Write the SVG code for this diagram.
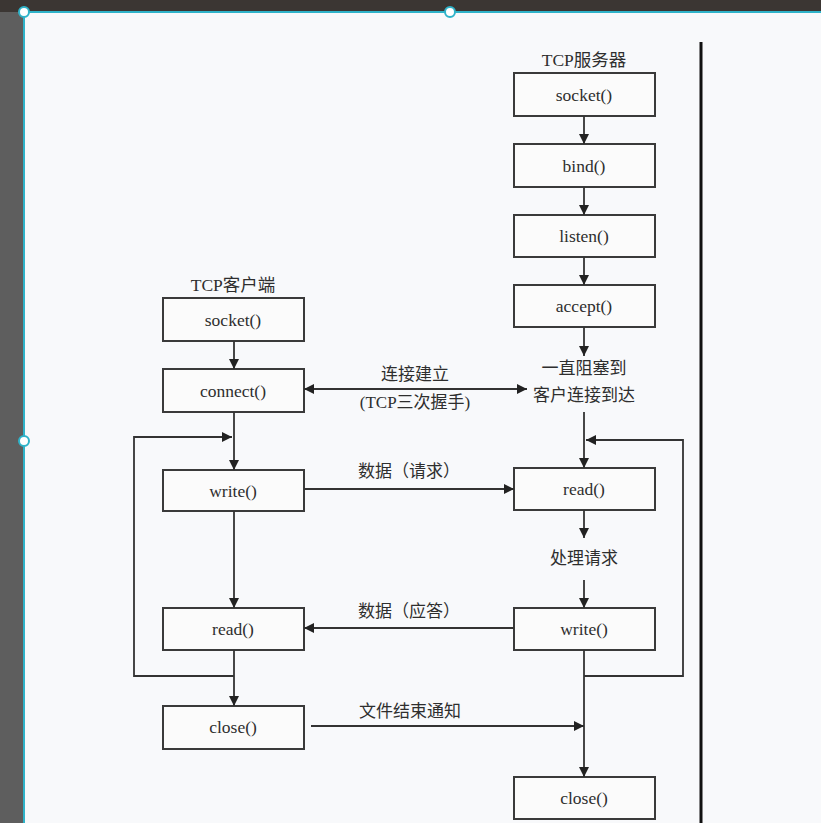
<svg xmlns="http://www.w3.org/2000/svg" width="821" height="823" viewBox="0 0 821 823">
<style>
.box{fill:#fbfbfb;stroke:#3a3a3a;stroke-width:2}
.t{font-family:"Liberation Serif","Noto Sans CJK SC",serif;font-size:17.5px;fill:#2e2e2e;text-anchor:middle}
.c{font-family:"Liberation Serif","Noto Sans CJK SC",serif;font-size:17px;fill:#2e2e2e;text-anchor:middle}
.ln{fill:none;stroke:#333;stroke-width:1.8}
</style>
<defs>
<marker id="ah" viewBox="0 0 10 10" refX="10" refY="5" markerWidth="10" markerHeight="10" markerUnits="userSpaceOnUse" orient="auto-start-reverse">
<path d="M0,0 L10,5 L0,10 z" fill="#222"/>
</marker>
</defs>
<!-- screen background -->
<rect x="0" y="0" width="821" height="823" fill="#5e5e5e"/>
<rect x="0" y="0" width="821" height="12" fill="#3b3633"/>
<rect x="25" y="13" width="796" height="810" fill="#f8f9fb"/>
<line x1="24" y1="12" x2="24" y2="823" stroke="#2fb3c9" stroke-width="2"/>
<line x1="24" y1="12" x2="821" y2="12" stroke="#2fb3c9" stroke-width="2"/>
<g fill="#ffffff" stroke="#2fb3c9" stroke-width="2">
<circle cx="24" cy="12" r="5"/>
<circle cx="450" cy="12" r="5"/>
<circle cx="24" cy="441" r="5"/>
</g>
<line x1="701" y1="42" x2="701" y2="823" stroke="#111" stroke-width="3"/>

<!-- labels -->
<text class="t" x="584" y="66">TCP服务器</text>
<text class="t" x="233" y="291">TCP客户端</text>

<!-- server nodes -->
<g id="s_socket"><rect class="box" x="514" y="73" width="141" height="43"/><text class="t" x="584" y="101">socket()</text></g>
<g id="s_bind"><rect class="box" x="514" y="144" width="141" height="43"/><text class="t" x="584" y="172">bind()</text></g>
<g id="s_listen"><rect class="box" x="514" y="215" width="141" height="42"/><text class="t" x="584" y="242">listen()</text></g>
<g id="s_accept"><rect class="box" x="514" y="285" width="141" height="42"/><text class="t" x="584" y="312">accept()</text></g>
<g id="s_block"><text class="c" x="584" y="374">一直阻塞到</text><text class="c" x="584" y="401">客户连接到达</text></g>
<g id="s_read"><rect class="box" x="514" y="468" width="141" height="42"/><text class="t" x="584" y="495">read()</text></g>
<g id="s_proc"><text class="c" x="584" y="564">处理请求</text></g>
<g id="s_write"><rect class="box" x="514" y="608" width="141" height="42"/><text class="t" x="584" y="635">write()</text></g>
<g id="s_close"><rect class="box" x="514" y="777" width="141" height="42"/><text class="t" x="584" y="804">close()</text></g>

<!-- client nodes -->
<g id="c_socket"><rect class="box" x="163" y="298" width="141" height="43"/><text class="t" x="233" y="326">socket()</text></g>
<g id="c_connect"><rect class="box" x="163" y="369" width="141" height="43"/><text class="t" x="233" y="397">connect()</text></g>
<g id="c_write"><rect class="box" x="163" y="470" width="141" height="41"/><text class="t" x="233" y="497">write()</text></g>
<g id="c_read"><rect class="box" x="163" y="608" width="141" height="42"/><text class="t" x="233" y="635">read()</text></g>
<g id="c_close"><rect class="box" x="163" y="706" width="141" height="43"/><text class="t" x="233" y="733">close()</text></g>

<!-- connectors -->
<g id="connectors">
<line class="ln" x1="584" y1="116" x2="584" y2="144" marker-end="url(#ah)"/>
<line class="ln" x1="584" y1="187" x2="584" y2="215" marker-end="url(#ah)"/>
<line class="ln" x1="584" y1="257" x2="584" y2="285" marker-end="url(#ah)"/>
<line class="ln" x1="584" y1="327" x2="584" y2="356" marker-end="url(#ah)"/>
<line class="ln" x1="584" y1="412" x2="584" y2="468" marker-end="url(#ah)"/>
<line class="ln" x1="584" y1="510" x2="584" y2="538" marker-end="url(#ah)"/>
<line class="ln" x1="584" y1="580" x2="584" y2="608" marker-end="url(#ah)"/>
<line class="ln" x1="584" y1="650" x2="584" y2="777" marker-end="url(#ah)"/>
<polyline class="ln" points="584,676 683,676 683,440 586,440" marker-end="url(#ah)"/>

<line class="ln" x1="234" y1="341" x2="234" y2="369" marker-end="url(#ah)"/>
<line class="ln" x1="234" y1="412" x2="234" y2="470" marker-end="url(#ah)"/>
<line class="ln" x1="234" y1="511" x2="234" y2="608" marker-end="url(#ah)"/>
<line class="ln" x1="234" y1="650" x2="234" y2="706" marker-end="url(#ah)"/>
<polyline class="ln" points="234,676 134,676 134,437 232,437" marker-end="url(#ah)"/>

<line class="ln" x1="304" y1="389" x2="527" y2="389" marker-start="url(#ah)" marker-end="url(#ah)"/>
<line class="ln" x1="304" y1="489" x2="514" y2="489" marker-end="url(#ah)"/>
<line class="ln" x1="514" y1="628" x2="304" y2="628" marker-end="url(#ah)"/>
<line class="ln" x1="311" y1="726" x2="584" y2="726" marker-end="url(#ah)"/>
</g>

<!-- connector labels -->
<text class="c" x="415" y="380">连接建立</text>
<text class="c" x="415" y="408">(TCP三次握手)</text>
<text class="c" x="409" y="477">数据（请求）</text>
<text class="c" x="409" y="617">数据（应答）</text>
<text class="c" x="410" y="717">文件结束通知</text>
</svg>
